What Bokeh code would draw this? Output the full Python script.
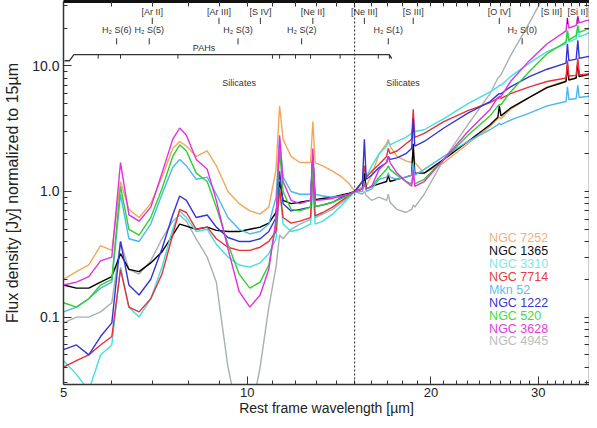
from bokeh.plotting import figure
from bokeh.models import LogAxis, FixedTicker, PrintfTickFormatter, Range1d, Span
from bokeh.core.properties import value
from bokeh.embed import file_html
from bokeh.resources import INLINE

# ---------------- data ----------------
wavelength = [5.0, 5.25, 5.5, 5.75, 6.0, 6.2, 6.4, 6.65, 6.95, 7.25,
              7.55, 7.75, 7.95, 8.25, 8.6, 8.9, 9.3, 9.7, 10.1, 10.5,
              10.85, 11.15, 11.3, 11.45, 11.8, 12.2, 12.7, 12.81, 12.92, 13.3,
              13.8, 14.3, 14.7, 15.0, 15.45, 15.56, 15.67, 16.0, 16.45, 16.92,
              17.03, 17.14, 17.6, 18.2, 18.6, 18.71, 18.82, 19.5, 21.0, 23.0,
              25.0, 25.75, 25.89, 26.05, 27.0, 29.0, 31.0, 33.3, 33.48, 33.66, 34.6, 34.82, 35.0, 36.0, 37.0]

ngc7252 = [0.20, 0.23, 0.26, 0.37, 0.34, 1.20, 0.72, 0.62, 0.80, 1.30,
           2.20, 2.50, 2.30, 1.90, 2.10, 1.60, 1.00, 0.80, 0.70, 0.66,
           0.75, 1.50, 4.80, 2.60, 1.90, 1.70, 1.70, 3.60, 1.70, 1.60,
           1.45, 1.30, 1.15, 1.00, 1.10, 1.30, 1.10, 1.35, 2.00, 2.40,
           2.60, 2.30, 1.90, 1.75, 1.70, 2.10, 1.70, 1.40, 1.70, 2.40,
           3.30, 3.80, 3.90, 3.80, 4.50, 5.60, 6.80, 7.60, 10.5, 7.80, 8.00, 11.0, 8.20, 8.40, 8.60]
ngc1365 = [0.18, 0.17, 0.17, 0.19, 0.21, 0.32, 0.24, 0.23, 0.27, 0.33,
           0.45, 0.55, 0.53, 0.50, 0.52, 0.49, 0.48, 0.48, 0.50, 0.52,
           0.56, 0.68, 1.20, 0.85, 0.80, 0.82, 0.85, 1.90, 0.86, 0.88,
           0.90, 0.94, 0.97, 1.00, 1.05, 1.40, 1.05, 1.10, 1.15, 1.20,
           1.35, 1.20, 1.25, 1.30, 1.35, 2.40, 1.40, 1.40, 1.80, 2.50,
           3.40, 3.90, 4.80, 4.00, 4.60, 5.60, 6.70, 7.50, 10.0, 7.70, 8.00, 10.5, 8.20, 8.50, 8.70]
ngc3310 = [0.045, 0.035, 0.026, 0.050, 0.060, 0.25, 0.12, 0.10, 0.14, 0.25,
           0.50, 0.70, 0.62, 0.48, 0.50, 0.38, 0.30, 0.26, 0.25, 0.27,
           0.32, 0.42, 1.05, 0.55, 0.48, 0.50, 0.55, 1.30, 0.55, 0.58,
           0.66, 0.78, 0.90, 1.00, 1.20, 1.60, 1.30, 1.60, 2.00, 2.30,
           2.50, 2.35, 2.50, 2.70, 2.90, 3.50, 3.00, 3.10, 3.80, 5.00,
           6.20, 6.80, 7.00, 7.00, 8.20, 10.5, 13.0, 15.0, 19.0, 15.5, 16.5, 20.0, 17.0, 18.0, 19.0]
ngc7714 = [0.040, 0.045, 0.050, 0.060, 0.070, 0.24, 0.12, 0.11, 0.14, 0.22,
           0.45, 0.72, 0.68, 0.50, 0.52, 0.42, 0.36, 0.34, 0.34, 0.36,
           0.40, 0.48, 1.05, 0.62, 0.56, 0.58, 0.62, 1.50, 0.64, 0.68,
           0.75, 0.85, 0.93, 1.00, 1.20, 1.60, 1.30, 1.45, 1.65, 1.90,
           2.20, 2.00, 2.10, 2.40, 2.60, 4.50, 2.70, 2.90, 3.60, 4.40,
           5.10, 5.50, 5.60, 5.50, 6.00, 6.80, 7.50, 8.00, 11.0, 8.30, 8.40, 11.5, 8.50, 8.60, 8.70]
mkn52 = [0.11, 0.12, 0.14, 0.17, 0.19, 0.95, 0.42, 0.40, 0.55, 0.95,
         1.55, 1.80, 1.60, 1.25, 1.30, 0.95, 0.62, 0.50, 0.46, 0.48,
         0.55, 0.90, 2.60, 1.30, 1.00, 0.95, 0.95, 1.80, 0.95, 0.92,
         0.90, 0.92, 0.95, 1.00, 1.00, 1.20, 1.00, 1.05, 1.25, 1.30,
         1.40, 1.30, 1.25, 1.30, 1.35, 1.70, 1.35, 1.50, 1.90, 2.50,
         3.10, 3.40, 3.50, 3.40, 3.70, 4.20, 4.80, 5.20, 6.80, 5.40, 5.50, 7.00, 5.60, 5.70, 5.80]
ngc1222 = [0.055, 0.060, 0.050, 0.070, 0.090, 0.40, 0.18, 0.15, 0.20, 0.35,
           0.65, 0.92, 0.85, 0.62, 0.65, 0.52, 0.43, 0.40, 0.40, 0.42,
           0.48, 0.62, 1.45, 0.80, 0.70, 0.72, 0.75, 1.90, 0.76, 0.78,
           0.82, 0.90, 0.95, 1.00, 1.20, 2.60, 1.25, 1.35, 1.55, 1.70,
           1.90, 1.80, 1.85, 2.00, 2.20, 3.80, 2.30, 2.50, 3.20, 4.20,
           5.20, 5.90, 6.00, 6.00, 6.80, 8.20, 9.40, 10.5, 15.0, 11.0, 11.3, 16.0, 11.5, 11.8, 12.0]
ngc520 = [0.13, 0.12, 0.14, 0.18, 0.20, 1.10, 0.50, 0.45, 0.62, 1.05,
          1.90, 2.35, 2.10, 1.40, 1.20, 0.75, 0.38, 0.22, 0.17, 0.19,
          0.26, 0.55, 2.10, 1.00, 0.72, 0.70, 0.75, 1.60, 0.76, 0.78,
          0.82, 0.88, 0.93, 1.00, 1.05, 1.15, 1.05, 1.10, 1.30, 1.50,
          1.60, 1.50, 1.35, 1.20, 1.15, 1.35, 1.15, 1.25, 1.80, 2.80,
          4.00, 4.80, 4.90, 4.90, 6.20, 9.00, 12.5, 15.5, 19.0, 16.0, 17.5, 21.0, 18.5, 19.5, 20.0]
ngc3628 = [0.18, 0.19, 0.21, 0.28, 0.30, 1.70, 0.65, 0.58, 0.75, 1.40,
           2.60, 3.20, 2.80, 1.80, 1.50, 0.85, 0.35, 0.16, 0.12, 0.15,
           0.24, 0.60, 2.80, 1.20, 0.85, 0.80, 0.85, 2.20, 0.85, 0.86,
           0.88, 0.92, 0.95, 1.00, 1.05, 1.15, 1.05, 1.10, 1.50, 1.70,
           1.90, 1.70, 1.40, 1.20, 1.10, 1.50, 1.10, 1.20, 1.80, 3.00,
           4.50, 5.60, 5.70, 5.70, 7.50, 11.0, 15.0, 19.0, 24.0, 20.0, 21.0, 25.0, 22.0, 23.0, 23.0]
ngc4945 = [0.09, 0.10, 0.10, 0.11, 0.13, 0.40, 0.24, 0.22, 0.28, 0.42,
           0.58, 0.65, 0.58, 0.42, 0.30, 0.19, 0.04, 0.015, 0.015, 0.04,
           0.12, 0.25, 0.45, 0.42, 0.50, 0.55, 0.60, 1.00, 0.62, 0.66,
           0.72, 0.82, 0.92, 1.00, 0.95, 1.00, 0.93, 0.85, 0.90, 0.85,
           0.95, 0.82, 0.72, 0.68, 0.72, 0.78, 0.75, 0.95, 1.80, 3.40,
           6.00, 8.00, 8.20, 8.50, 12.0, 22.0, 40.0, 50.0, 55.0, 52.0, 55.0, 58.0, 56.0, 58.0, 60.0]

galaxy_names = ["NGC 7252", "NGC 1365", "NGC 3310", "NGC 7714", "Mkn 52",
                "NGC 1222", "NGC 520", "NGC 3628", "NGC 4945"]
series = [ngc7252, ngc1365, ngc3310, ngc7714, mkn52, ngc1222, ngc520, ngc3628, ngc4945]
line_colors = ["#f5a55a", "#000000", "#3fe0e0", "#e8303a", "#48b8f0",
               "#3434d8", "#30d030", "#e030e0", "#a8b0b0"]
label_colors = ["#f5b07a", "#111111", "#7fe6e6", "#e84040", "#60c0f0",
                "#3838d0", "#40e040", "#e040e0", "#b8c0c0"]

x_ticks = [5, 10, 20, 30]
x_minor = [6, 7, 8, 9, 11, 12, 13, 14, 15, 16, 17, 18, 19, 21, 22, 23, 24, 25,
           26, 27, 28, 29, 31, 32, 33, 34, 35, 36, 37]
y_ticks = [0.1, 1.0, 10.0]
y_minor = [0.03, 0.04, 0.05, 0.06, 0.07, 0.08, 0.09, 0.2, 0.3, 0.4, 0.5, 0.6, 0.7,
           0.8, 0.9, 2, 3, 4, 5, 6, 7, 8, 9, 20, 30]

ion_labels = ["[Ar II]", "[Ar III]", "[S IV]", "[Ne II]", "[Ne III]", "[S III]",
              "[O IV]", "[S III]", "[Si II]"]
ion_wl = [6.99, 8.99, 10.51, 12.81, 15.56, 18.71, 25.89, 33.48, 34.82]
h2_labels = ["H\u2082 S(6)", "H\u2082 S(5)", "H\u2082 S(3)", "H\u2082 S(2)",
             "H\u2082 S(1)", "H\u2082 S(0)"]
h2_wl = [6.11, 6.91, 9.66, 12.28, 17.03, 28.22]
pah_wl = [5.7, 6.2, 7.7, 11.0, 11.3, 12.0, 12.7, 14.2, 16.4, 17.1]
pah_span = [5.2, 17.1]
silicate_wl = [9.7, 18.0]
norm_wl = 15.0

# ---------------- geometry (screen pixels of the picture) ----------------
FL, FR, FT, FB = 65, 589, 5, 380
PX_OCT = 183.0      # pixels per factor 2 in wavelength
Y1 = 191.0          # pixel row of flux = 1
PX_DEC = 123.0      # pixels per decade in flux


def xv(px):
    return 5.0 * 2 ** ((px - FL) / PX_OCT)


def yv(py):
    return 10 ** ((Y1 - py) / PX_DEC)


FONT = value("Liberation Sans")
INK = "#333333"

p = figure(width=589, height=420, x_axis_type="log", y_axis_type="log",
           x_range=Range1d(xv(FL), xv(FR)), y_range=Range1d(yv(FB), yv(FT)),
           output_backend="svg", toolbar_location=None,
           min_border_left=63, min_border_right=0, min_border_top=1, min_border_bottom=36)
p.outline_line_color = None
p.xgrid.grid_line_color = None
p.ygrid.grid_line_color = None
p.background_fill_color = "white"
p.border_fill_color = "white"


def style_axis(ax, ticks, minor, fmt):
    ax.ticker = FixedTicker(ticks=ticks, minor_ticks=minor)
    ax.formatter = PrintfTickFormatter(format=fmt)
    ax.major_tick_in = 8
    ax.major_tick_out = 0
    ax.minor_tick_in = 4
    ax.minor_tick_out = 0
    ax.axis_line_color = INK
    ax.major_tick_line_color = INK
    ax.minor_tick_line_color = INK
    ax.axis_line_width = 1.5
    ax.major_label_text_font = "Liberation Sans"
    ax.major_label_text_font_size = "14px"
    ax.major_label_text_color = "#222222"
    ax.major_label_standoff = 4
    ax.axis_label_text_font = "Liberation Sans"
    ax.axis_label_text_font_size = "15px"
    ax.axis_label_text_font_style = "normal"
    ax.axis_label_text_color = "#222222"


xa = p.xaxis[0]
ya = p.yaxis[0]
style_axis(xa, x_ticks, x_minor, "%d")
style_axis(ya, y_ticks, y_minor, "%.1f")
xa.major_label_text_font_size = "13px"
xa.major_label_standoff = 3
xa.axis_label_text_font_size = "14px"
xa.axis_label = "Rest frame wavelength [\u00b5m]"
xa.axis_label_standoff = 0
ya.axis_label = "Flux density [Jy] normalized to 15\u00b5m"
ya.axis_label_text_font_size = "16px"
ya.axis_label_standoff = 8

# mirrored axes: tick marks only (no labelled ticks)
top = LogAxis(ticker=FixedTicker(ticks=[], minor_ticks=x_ticks + x_minor))
top.minor_tick_in = 5
top.minor_tick_out = 0
top.minor_tick_line_color = INK
top.axis_line_width = 3
top.axis_line_color = "#111111"
top.major_label_standoff = 0
top.major_label_text_font_size = "0px"
p.add_layout(top, "above")
right = LogAxis(ticker=FixedTicker(ticks=[], minor_ticks=y_ticks + y_minor))
right.minor_tick_in = 5
right.minor_tick_out = 0
right.minor_tick_line_color = INK
right.axis_line_color = INK
right.axis_line_width = 1.5
right.major_label_standoff = 0
right.major_label_text_font_size = "0px"
p.add_layout(right, "right")

# spectra (grey first so it sits behind)
order = [8, 0, 1, 2, 3, 4, 5, 6, 7]
for i in order:
    p.line(wavelength, series[i], line_color=line_colors[i], line_width=1.4)

# normalisation wavelength
p.add_layout(Span(location=norm_wl, dimension="height", line_color="#222222",
                  line_dash="2 2", line_width=1))

# ion labels (row 1) and H2 labels (row 2)
nudge = [0, 0, 0, 0, 0, 0, 0, -16, 0]
p.text(x=ion_wl, y=[yv(15)] * len(ion_wl), text=ion_labels, text_font=FONT,
       text_font_size="9px", text_color=INK, text_align="center",
       text_baseline="middle", x_offset=nudge)
p.segment(x0=ion_wl, y0=[yv(21)] * len(ion_wl), x1=ion_wl, y1=[yv(27)] * len(ion_wl),
          line_color=INK, line_width=1)
p.text(x=h2_wl, y=[yv(33)] * len(h2_wl), text=h2_labels, text_font=FONT,
       text_font_size="9px", text_color=INK, text_align="center",
       text_baseline="middle")
p.segment(x0=h2_wl, y0=[yv(41)] * len(h2_wl), x1=h2_wl, y1=[yv(47)] * len(h2_wl),
          line_color=INK, line_width=1)

# PAH bar
bar_x = [xv(FL + 1), xv(FL + 6), pah_span[0], pah_span[1], xv(392)]
bar_y = [yv(63), yv(63), yv(57), yv(57), yv(61)]
p.line(bar_x, bar_y, line_color=INK, line_width=1.3)
p.segment(x0=pah_wl, y0=[yv(57)] * len(pah_wl), x1=pah_wl, y1=[yv(61)] * len(pah_wl),
          line_color=INK, line_width=1)
p.text(x=[xv(205)], y=[yv(51)], text=["PAHs"], text_font=FONT, text_font_size="9px",
       text_color=INK, text_align="center", text_baseline="middle")
p.text(x=silicate_wl, y=[yv(85)] * 2, text=["Silicates", "Silicates"], text_font=FONT,
       text_font_size="9px", text_color=INK, text_align="center",
       text_baseline="middle")

# legend as coloured text
leg_x = [xv(489)] * len(galaxy_names)
leg_y = [yv(237 + 12.6 * k) for k in range(len(galaxy_names))]
p.text(x=leg_x, y=leg_y, text=galaxy_names, text_color=label_colors, text_font=FONT,
       text_font_size="12.5px", text_align="left", text_baseline="middle")

open("out.html", "w").write(file_html(p, INLINE))
